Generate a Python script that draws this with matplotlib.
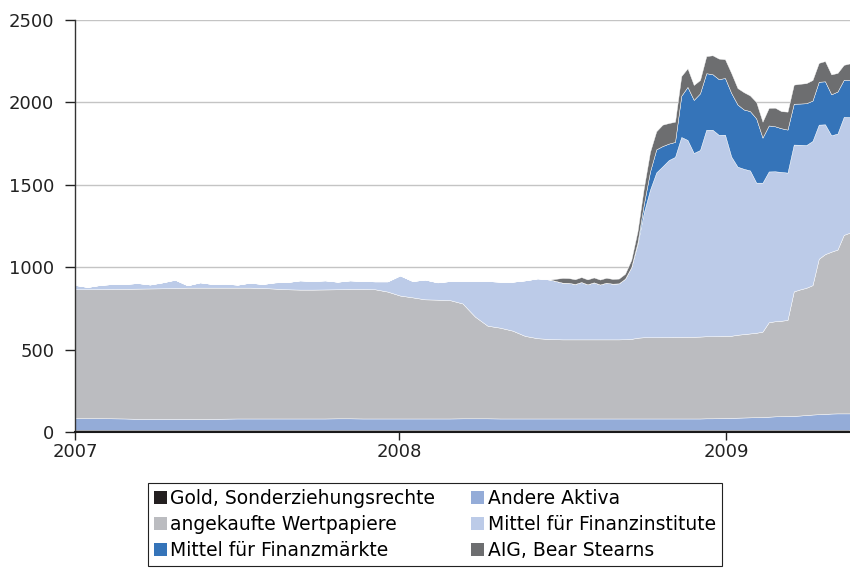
import numpy as np
import pandas as pd
import matplotlib
matplotlib.use('Agg')
import matplotlib.pyplot as plt
from matplotlib.patches import Patch

# dates: biweekly until mid 2008, weekly afterwards
dates = list(pd.date_range('2007-01-03', periods=40, freq='14D')) + \
        list(pd.date_range('2008-07-09', periods=46, freq='7D'))

# values in Mrd. USD
gold = [13, 13, 13, 13, 13, 13, 13, 13, 13, 13, 13, 13, 13, 13, 13, 13, 13, 13, 13, 13,
        13, 13, 13, 13, 13, 13, 13, 13, 13, 13, 13, 13, 13, 13, 13, 13, 13, 13, 13, 13,
        13, 13, 13, 13, 13, 13, 13, 13, 13, 13, 13, 13, 13, 13, 13, 13, 13, 13, 13, 13,
        13, 13, 13, 13, 13, 13, 13, 13, 13, 13, 13, 13, 13, 13, 13, 13, 13, 13, 13, 13,
        13, 13, 13, 13, 13, 13]
andere = [71, 71, 71, 70, 69, 67, 67, 67, 67, 67, 66, 67, 68, 69, 69, 69, 69, 69, 69, 69,
          69, 70, 70, 69, 69, 69, 69, 69, 69, 69, 69, 70, 70, 70, 69, 69, 69, 69, 69, 69,
          69, 69, 69, 69, 69, 69, 69, 69, 69, 69, 69, 69, 69, 69, 69, 69, 69, 69, 69, 69,
          69, 69, 70, 70, 71, 72, 73, 74, 75, 76, 77, 78, 80, 82, 83, 84, 85, 87, 90, 93,
          95, 97, 99, 100, 100, 100]
wertpapiere = [782, 782, 783, 785, 787, 790, 791, 792, 794, 796, 797, 796, 795, 794, 794, 792, 788, 784, 782, 782,
               783, 783, 785, 786, 784, 770, 746, 735, 723, 721, 718, 697, 617, 562, 551, 533, 501, 487, 482, 480,
               480, 480, 480, 480, 480, 480, 480, 480, 480, 481, 483, 490, 493, 493, 493, 494, 494, 495, 495, 496,
               496, 497, 498, 498, 498, 499, 498, 503, 506, 509, 512, 518, 573, 577, 579, 583, 755, 765, 772, 785,
               943, 969, 982, 994, 1083, 1097]
institute = [26, 14, 25, 30, 29, 34, 24, 36, 50, 14, 32, 22, 24, 18, 30, 24, 38, 44, 56, 52,
             55, 46, 52, 48, 48, 62, 122, 99, 120, 105, 116, 138, 216, 271, 279, 297, 337, 363, 361, 344,
             343, 336, 348, 334, 346, 333, 344, 338, 340, 367, 435, 568, 755, 895, 1000, 1036, 1074, 1092, 1213, 1194,
             1115, 1132, 1253, 1253, 1221, 1220, 1087, 1020, 1003, 989, 911, 904, 915, 910, 903, 894, 891, 878, 866, 875,
             814, 788, 706, 704, 716, 701]
maerkte = [0, 0, 0, 0, 0, 0, 0, 0, 0, 0, 0, 0, 0, 0, 0, 0, 0, 0, 0, 0,
           0, 0, 0, 0, 0, 0, 0, 0, 0, 0, 0, 0, 0, 0, 0, 0, 0, 0, 0, 0,
           0, 0, 0, 0, 0, 0, 0, 0, 0, 0, 0, 10, 50, 110, 140, 123, 100, 91, 250, 322,
           322, 344, 343, 337, 338, 344, 386, 377, 360, 360, 389, 273, 279, 273, 265, 261, 248, 250, 254, 245,
           260, 261, 249, 255, 225, 225]
aig_bear = [0, 0, 0, 0, 0, 0, 0, 0, 0, 0, 0, 0, 0, 0, 0, 0, 0, 0, 0, 0,
            0, 0, 0, 0, 0, 0, 0, 0, 0, 0, 0, 0, 0, 0, 0, 0, 0, 0, 0, 29,
            29, 29, 30, 30, 30, 30, 30, 29, 29, 30, 45, 70, 100, 120, 110, 130, 125, 123, 120, 113,
            91, 81, 104, 115, 125, 114, 121, 100, 105, 95, 100, 97, 107, 113, 104, 109, 116, 120, 122, 125,
            115, 123, 121, 113, 91, 101]

labels = ['Gold, Sonderziehungsrechte', 'Andere Aktiva', 'angekaufte Wertpapiere',
          'Mittel für Finanzinstitute', 'Mittel für Finanzmärkte', 'AIG, Bear Stearns']
colors = ['#231f20', '#94acd8', '#bbbcc0', '#bccbe8', '#3574b9', '#6d6e70']

plt.rcParams['font.family'] = ['DejaVu Sans']

fig = plt.figure(figsize=(8.5, 5.68), dpi=100)
ax = fig.add_axes([75/850, 1-432/568, 775/850, 412/568])

ax.stackplot(dates, gold, andere, wertpapiere, institute, maerkte, aig_bear,
             colors=colors, edgecolor='white', linewidth=0.3)

ax.set_xlim(dates[0], dates[-1])
ax.set_ylim(0, 2500)
ax.set_yticks(np.arange(0, 2501, 500))
ax.set_xticks(pd.to_datetime(['2007-01-03', '2008-01-01', '2009-01-01']))
ax.set_xticklabels(['2007', '2008', '2009'])
ax.set_axisbelow(True)
ax.yaxis.grid(True, color='#c4c4c4', linewidth=1)

for s in ['top', 'right']:
    ax.spines[s].set_visible(False)
ax.spines['left'].set_color('#333333')
ax.spines['left'].set_linewidth(1)
ax.spines['bottom'].set_color('#1a1a1a')
ax.spines['bottom'].set_linewidth(1.5)
ax.tick_params(axis='y', length=7, width=1, pad=8, labelsize=13, colors='#222222')
ax.tick_params(axis='x', length=6, width=1, pad=2, labelsize=13, colors='#222222')

# legend, filled column-wise
order = [0, 2, 4, 1, 3, 5]
handles = [Patch(facecolor=colors[i], edgecolor='none') for i in order]
leg = fig.legend(handles, [labels[i] for i in order], ncol=2,
                 loc='upper left', bbox_to_anchor=(148/850, 1-483/568),
                 bbox_transform=fig.transFigure, fontsize=13.5, borderaxespad=0,
                 frameon=True, fancybox=False, framealpha=1, edgecolor='#222222',
                 borderpad=0.3, handlelength=0.7, handleheight=0.7,
                 handletextpad=0.2, columnspacing=1.9, labelspacing=0.38)
leg.get_frame().set_linewidth(0.8)

plt.savefig('out.png', dpi=100)
